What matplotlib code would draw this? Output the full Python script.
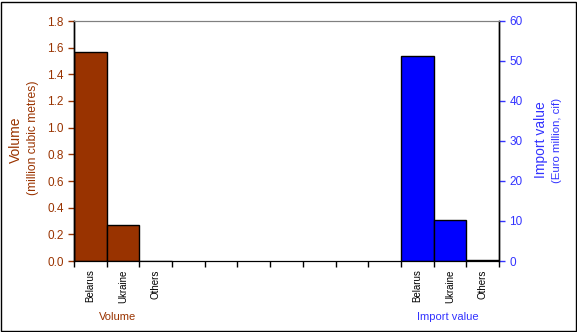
import matplotlib.pyplot as plt, numpy as np, matplotlib
from matplotlib.patches import Rectangle

matplotlib.rcParams['font.family'] = ['Liberation Sans', 'DejaVu Sans']

countries = ['Belarus', 'Ukraine', 'Others']
volume = [1.57, 0.27, 0.0]
import_value = [51.3, 10.3, 0.3]
n_slots = 13

brown = '#993300'
blue = '#3333ff'

fig = plt.figure(figsize=(5.77, 3.32), dpi=100)
ax = fig.add_axes([74/577, 71/332, 425/577, 240/332])
ax2 = ax.twinx()

pos_vol = np.arange(len(countries))
pos_imp = np.arange(len(countries)) + n_slots - len(countries)
ax.bar(pos_vol, volume, width=1.0, color=brown, edgecolor='black', linewidth=1)
ax2.bar(pos_imp, import_value, width=1.0, color='#0000ff', edgecolor='black', linewidth=1)

ax.set_xlim(-0.5, n_slots - 0.5)
ax.set_ylim(0, 1.8)
ax2.set_ylim(0, 60)
ax.set_yticks(np.arange(0, 1.81, 0.2))
ax.set_yticklabels(['%.1f' % v for v in np.arange(0, 1.81, 0.2)])
ax2.set_yticks(np.arange(0, 61, 10))

ax.set_xticks(np.arange(-0.5, n_slots, 1.0))
ax.set_xticklabels([])
ax.set_xticks(np.concatenate([pos_vol, pos_imp]), minor=True)
ax.set_xticklabels(countries + countries, minor=True, rotation=90, fontsize=7)
ax.tick_params(axis='x', which='major', direction='out', length=4, width=1)
ax.tick_params(axis='x', which='minor', length=0, pad=6)

ax.tick_params(axis='y', colors=brown, labelsize=8.5, length=4, width=1)
ax2.tick_params(axis='y', colors=blue, labelsize=8.5, length=4, width=1)
for a in (ax, ax2):
    a.spines['top'].set_color('#808080')
    a.spines['left'].set_color('black')
    a.spines['right'].set_color('black')
    a.spines['bottom'].set_color('black')
    a.spines['left'].set_linewidth(1)
    a.spines['right'].set_linewidth(1)

fig.text(16/577, 1 - 140/332, 'Volume', rotation=90, color=brown, fontsize=10, ha='center', va='center')
fig.text(33/577, 1 - 138/332, '(million cubic metres)', rotation=90, color=brown, fontsize=8.7, ha='center', va='center')
fig.text(541/577, 1 - 140/332, 'Import value', rotation=90, color=blue, fontsize=10, ha='center', va='center')
fig.text(557/577, 1 - 140/332, '(Euro million, cif)', rotation=90, color=blue, fontsize=8.2, ha='center', va='center')
fig.text(118/577, 1 - 317/332, 'Volume', color=brown, fontsize=8, ha='center', va='center')
fig.text(448/577, 1 - 317/332, 'Import value', color=blue, fontsize=8, ha='center', va='center')

fig.patches.append(Rectangle((1/577, 1/332), 575/577, 329/332, transform=fig.transFigure,
                             fill=False, edgecolor='black', linewidth=1))

fig.savefig('out.png', dpi=100)
